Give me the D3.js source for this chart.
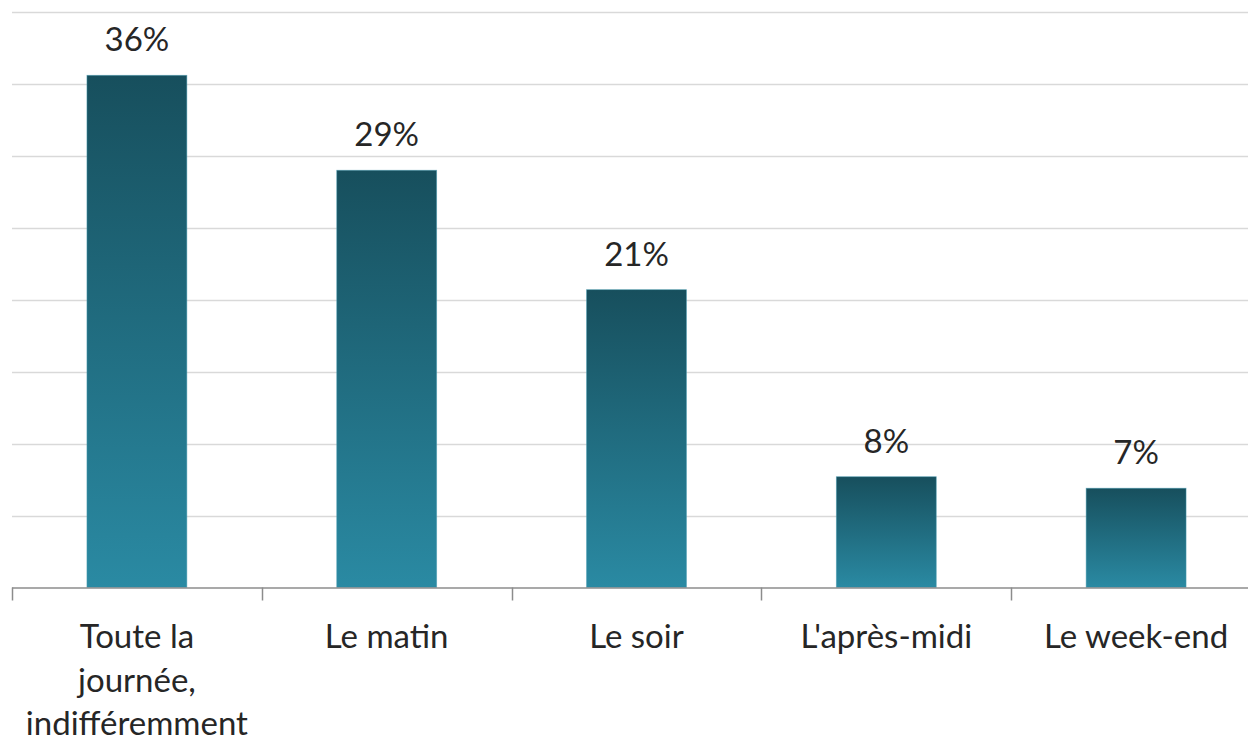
<!DOCTYPE html>
<html>
<head>
<meta charset="utf-8">
<script src="https://cdn.jsdelivr.net/npm/d3@7"></script>
<style>
  html, body { margin: 0; padding: 0; background: #fff; }
  svg { display: block; }
  text { font-family: Lato, "Open Sans", sans-serif; fill: #262626; }
</style>
</head>
<body>
<svg id="chart" width="1248" height="741"></svg>
<script>
const categories = ["Toute la journée, indifféremment", "Le matin", "Le soir", "L'après-midi", "Le week-end"];
const values = [35.6, 29.0, 20.7, 7.7, 6.9];
const valueLabels = ["36%", "29%", "21%", "8%", "7%"];
const yTicks = [0, 5, 10, 15, 20, 25, 30, 35, 40];

(function () {
const svg = d3.select("#chart");
const W = 1248, H = 741;
const mLeft = 12, mRight = 1261, mTop = 12, mBottom = 587.5;
const fontSize = 33;

const x = d3.scaleBand().domain(categories).range([mLeft, mRight]).paddingInner(0.6).paddingOuter(0.3);
const y = d3.scaleLinear().domain([0, 40]).range([mBottom, mTop]);

const defs = svg.append("defs");
const grad = defs.append("linearGradient").attr("id", "barGrad")
  .attr("x1", 0).attr("y1", 0).attr("x2", 0).attr("y2", 1);
grad.append("stop").attr("offset", "0%").attr("stop-color", "#174f5d");
grad.append("stop").attr("offset", "100%").attr("stop-color", "#2a8aa3");

// gridlines
svg.append("g").selectAll("line").data(yTicks.filter(d => d > 0)).join("line")
  .attr("x1", mLeft).attr("x2", W)
  .attr("y1", d => Math.round(y(d)) + 0.5).attr("y2", d => Math.round(y(d)) + 0.5)
  .attr("stroke", "#d9d9d9").attr("stroke-width", 1.5);

// bars
svg.append("g").selectAll("rect").data(values).join("rect")
  .attr("x", (d, i) => x(categories[i]))
  .attr("width", x.bandwidth())
  .attr("y", d => y(d))
  .attr("height", d => y(0) - y(d))
  .attr("fill", "url(#barGrad)")
  .attr("stroke", "#4a9db3").attr("stroke-width", 0.8).attr("stroke-opacity", 0.6);

// axis line
svg.append("line").attr("x1", mLeft).attr("x2", W).attr("y1", mBottom + 0.5).attr("y2", mBottom + 0.5)
  .attr("stroke", "#8c8c8c").attr("stroke-width", 1.5);
// ticks at band boundaries
const bounds = d3.range(categories.length + 1).map(i => mLeft + i * x.step());
svg.append("g").selectAll("line").data(bounds).join("line")
  .attr("x1", d => Math.round(d) + 0.5).attr("x2", d => Math.round(d) + 0.5)
  .attr("y1", mBottom).attr("y2", mBottom + 13)
  .attr("stroke", "#8c8c8c").attr("stroke-width", 1.5);

// value labels
svg.append("g").selectAll("text").data(values).join("text")
  .attr("x", (d, i) => x(categories[i]) + x.bandwidth() / 2)
  .attr("y", d => y(d) - 24)
  .attr("text-anchor", "middle")
  .attr("font-size", fontSize)
  .text((d, i) => valueLabels[i]);

// category labels with wrapping
const catG = svg.append("g");
categories.forEach((c, i) => {
  const cx = x(c) + x.bandwidth() / 2;
  const t = catG.append("text").attr("text-anchor", "middle").attr("font-size", fontSize);
  const words = c.split(" ");
  let lines = [], cur = [];
  const maxW = 205;
  const probe = t.append("tspan");
  words.forEach(w => {
    cur.push(w);
    probe.text(cur.join(" "));
    if (probe.node().getComputedTextLength() > maxW && cur.length > 1) {
      cur.pop();
      lines.push(cur.join(" "));
      cur = [w];
    }
  });
  lines.push(cur.join(" "));
  probe.remove();
  lines.forEach((l, k) => {
    t.append("tspan").attr("x", cx).attr("y", 648 + k * 43.5).text(l);
  });
});
})();
</script>
</body>
</html>
